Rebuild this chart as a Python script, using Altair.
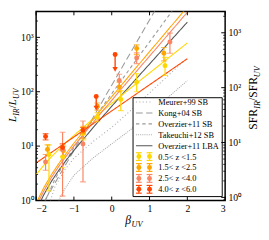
import altair as alt
import pandas as pd

W, H = 195, 195
X_DOM = [-2.0, 3.0]
Y_DOM = [1.0, 3000.0]
Y2_DOM = [0.88, 2450.0]
SERIF = "Liberation Serif"

C1, C2, C3, C4 = "#FFD700", "#FFA500", "#F98563", "#FF4500"

# ---------------- reference relations ----------------
meurer_beta = [-1.62, -1.5, -1.25, -1.0, -0.5, 0.0, 0.5, 1.0, 1.5, 2.0]
meurer_irx = [1.0, 1.8, 3.6, 6.0, 12, 22, 45, 95, 200, 420]
kong_beta = [-1.77, -1.5, -1.0, -0.5, 0.0, 0.5, 1.0, 1.2]
kong_irx = [1.0, 2.1, 8.3, 33, 132, 525, 2090, 3630]
ovzsb_beta = [-1.75, -1.5, -1.0, -0.5, 0.0, 0.5, 1.0, 1.5, 1.7]
ovzsb_irx = [1.0, 2.5, 9.4, 30, 92, 277, 826, 2466, 3819]
take_beta = [-1.40, -1.25, -1.0, -0.5, 0.0, 0.5, 1.0, 1.5, 2.0]
take_irx = [1.0, 1.6, 2.9, 6.0, 11, 20, 40, 80, 160]
lba_beta = [-1.87, -1.8, -1.6, -1.4, -1.2, -1.0, -0.5, 0.0, 0.5, 1.0, 1.5, 2.0]
lba_irx = [1.0, 1.26, 2.22, 3.59, 5.55, 8.33, 21.6, 54, 133, 323, 784, 1904]

# ---------------- fits per redshift bin ----------------
fit1_beta = [-2.0, -1.8, -1.6, -1.4, -1.2, -1.0, -0.5, 0.0, 0.5, 1.0, 1.5, 2.0]
fit1_irx = [3.0, 4.4, 6.3, 8.7, 11.8, 15.7, 31.4, 61, 117, 221, 418, 790]
fit2_beta = [-1.96, -1.9, -1.8, -1.6, -1.4, -1.2, -1.0, -0.5, 0.0, 0.5, 1.0, 1.5, 2.0]
fit2_irx = [1.0, 1.23, 1.70, 2.95, 4.77, 7.41, 11.3, 30.8, 80.8, 211, 545, 1406, 3620]
fit3_beta = [-1.92, -1.9, -1.8, -1.6, -1.4, -1.2, -1.0, -0.5, 0.0, 0.5, 1.0, 1.5, 2.0]
fit3_irx = [1.0, 1.07, 1.48, 2.60, 4.23, 6.59, 10.0, 26.9, 69.5, 178.5, 451, 1144, 2897]
fit4_beta = [-2.0, -1.0, 0.0, 1.0, 2.0]
fit4_irx = [4.9, 14.7, 44.4, 134, 405]

# ---------------- measurements ----------------
bins = ["0.5< z <1.5", "1.5< z <2.5", "2.5< z <4.0", "4.0< z <6.0"]
bin_colors = [C1, C2, C3, C4]

b1_beta = [-1.66, -1.30, -0.75, -0.38, 0.24, 0.66, 1.41]
b1_irx = [7.0, 6.3, 17, 34, 72, 150, 300]
b1_lo = [1.5, 4.0, 13, 28, 45, 100, 200]
b1_hi = [10.5, 8.5, 22, 41, 105, 215, 430]

b2_beta = [-1.70, -1.28, -0.75, -0.38, 0.20, 0.66, 1.38]
b2_irx = [8.7, 8.2, 18, 54, 122, 625, 510]
b2_lo = [7.0, 6.5, 14, 46, 100, 480, 370]
b2_hi = [10.5, 10, 23, 62, 150, 730, 650]

b3_beta = [-1.75, -1.30, -0.76, 0.20, 0.66, 1.54]
b3_irx = [5.1, 8.7, 10.9, 161, 416, 822]
b3_lo = [3.6, 1.2, 2.2, 125, 330, 510]
b3_hi = [7.0, 18, 29, 210, 520, 1200]

b4_beta = [-1.75, -1.30, -0.76]
b4_irx = [15, 9.4, 19.5]
b4_lo = [13, 8.2, 17]
b4_hi = [17, 11, 22]

# upper limits (4.0<z<6.0)
lim_beta = [-0.41, 0.09]
lim_irx = [81.5, 484]
lim_end = [50, 258]

# axes ticks
x_ticks = [-2, -1, 0, 1, 2, 3]
y_major = [1, 10, 100, 1000]
y_minor = [m * d for d in (1, 10, 100, 1000) for m in range(2, 10) if m * d <= 3000]
y2_minor = [0.9] + [m * d for d in (1, 10, 100, 1000) for m in range(2, 10) if m * d <= 2450]

# ---------------- build tables ----------------
curve_names = ["Meurer+99 SB", "Kong+04 SB", "Overzier+11 SB", "Takeuchi+12 SB",
               "Overzier+11 LBA", "f1", "f2", "f3", "f4"]
curve_colors = ["#a8a8a8", "#9a9a9a", "#9a9a9a", "#a8a8a8", "#555555", C1, C2, C3, C4]
curve_dash = [[1, 2.5], [7, 3.5], [3.5, 3], [1, 1.2], [1, 0], [1, 0], [1, 0], [1, 0], [1, 0]]
curve_data = [(meurer_beta, meurer_irx), (kong_beta, kong_irx), (ovzsb_beta, ovzsb_irx),
              (take_beta, take_irx), (lba_beta, lba_irx), (fit1_beta, fit1_irx),
              (fit2_beta, fit2_irx), (fit3_beta, fit3_irx), (fit4_beta, fit4_irx)]
rows = []
for name, (bs, vs) in zip(curve_names, curve_data):
    for i, (b, v) in enumerate(zip(bs, vs)):
        rows.append({"curve": name, "beta": b, "irx": v, "i": i})
curves_df = pd.DataFrame(rows)

prow = []
for bname, bb, vv, lo, hi in zip(bins, [b1_beta, b2_beta, b3_beta, b4_beta],
                                 [b1_irx, b2_irx, b3_irx, b4_irx],
                                 [b1_lo, b2_lo, b3_lo, b4_lo],
                                 [b1_hi, b2_hi, b3_hi, b4_hi]):
    for b, v, l, h in zip(bb, vv, lo, hi):
        prow.append({"curve": bname, "beta": b, "irx": v, "lo": l, "hi": h})
pts_df = pd.DataFrame(prow)
lim_df = pd.DataFrame({"beta": lim_beta, "irx": lim_irx, "end": lim_end})

xs = alt.Scale(domain=X_DOM, nice=False, zero=False)
ys = alt.Scale(type="log", domain=Y_DOM, nice=False)
ys2 = alt.Scale(type="log", domain=Y2_DOM, nice=False)

x_axis = alt.Axis(values=x_ticks, ticks=False, domain=False, grid=False, title=None,
                  labelFont=SERIF, labelFontSize=10, labelColor="black", labelPadding=3,
                  labelExpr="datum.value < 0 ? '\u2212' + (-datum.value) : '' + datum.value")
sup = ("datum.value >= 1000 ? '10\u00b3' : datum.value >= 100 ? '10\u00b2' : "
       "datum.value >= 10 ? '10\u00b9' : '10\u2070'")
y_axis = alt.Axis(values=y_major, ticks=False, domain=False, grid=False, title=None,
                  labelFont=SERIF, labelFontSize=10, labelColor="black", labelPadding=3,
                  labelExpr=sup)
y2_axis = alt.Axis(values=y_major, ticks=False, domain=False, grid=False, title=None,
                   orient="right", labelFont=SERIF, labelFontSize=10, labelColor="black",
                   labelPadding=3, labelExpr=sup)

X = alt.X("beta:Q", scale=xs, axis=x_axis)
Y = alt.Y("irx:Q", scale=ys, axis=y_axis)
all_names = curve_names + bins
all_colors = curve_colors + bin_colors
cscale = alt.Scale(domain=all_names, range=all_colors)
dscale = alt.Scale(domain=curve_names, range=curve_dash)
COL = alt.Color("curve:N", scale=cscale, legend=None)

lines = alt.Chart(curves_df).mark_line(clip=True, strokeWidth=1.1).encode(
    x=X, y=Y, color=COL,
    strokeDash=alt.StrokeDash("curve:N", scale=dscale, legend=None),
    order="i:Q",
)

err = alt.Chart(pts_df).mark_rule(clip=True, strokeWidth=1.2).encode(
    x=X, y=alt.Y("lo:Q", scale=ys, axis=y_axis), y2="hi:Q", color=COL)
cap_lo = alt.Chart(pts_df).mark_tick(orient="horizontal", size=6, thickness=1.2, clip=True).encode(
    x=X, y=alt.Y("lo:Q", scale=ys, axis=y_axis), color=COL)
cap_hi = alt.Chart(pts_df).mark_tick(orient="horizontal", size=6, thickness=1.2, clip=True).encode(
    x=X, y=alt.Y("hi:Q", scale=ys, axis=y_axis), color=COL)
dots = alt.Chart(pts_df).mark_circle(size=26, opacity=1).encode(x=X, y=Y, color=COL)

lim_rule = alt.Chart(lim_df).mark_rule(strokeWidth=1.4, color=C4).encode(
    x=X, y=Y, y2="end:Q")
lim_head = alt.Chart(lim_df).mark_point(shape="triangle-down", filled=True, size=30,
                                        opacity=1, color=C4).encode(
    x=X, y=alt.Y("end:Q", scale=ys, axis=y_axis))
lim_dot = alt.Chart(lim_df).mark_circle(size=26, opacity=1, color=C4).encode(x=X, y=Y)

# inner ticks
xt_df = pd.DataFrame({"beta": x_ticks})
xt_bot = alt.Chart(xt_df).mark_rule(color="black", strokeWidth=1).encode(
    x=X, y=alt.value(H), y2=alt.value(H - 4))
xt_top = alt.Chart(xt_df).mark_rule(color="black", strokeWidth=1).encode(
    x=X, y=alt.value(0), y2=alt.value(4))
ymaj_df = pd.DataFrame({"irx": y_major})
ymin_df = pd.DataFrame({"irx": y_minor})
yt_maj = alt.Chart(ymaj_df).mark_rule(color="black", strokeWidth=1).encode(
    y=Y, x=alt.value(0), x2=alt.value(4))
yt_min = alt.Chart(ymin_df).mark_rule(color="black", strokeWidth=0.8).encode(
    y=Y, x=alt.value(0), x2=alt.value(2))

# legend (custom, matplotlib-like box)
leg = []
leg.append(alt.Chart(pd.DataFrame({"a": [0]})).mark_rect(
    fill="white", stroke="black", strokeWidth=1).encode(
    x=alt.value(100), x2=alt.value(192), y=alt.value(89), y2=alt.value(191)))
row_y = [93.5, 104.75, 116, 127.25, 138.5, 149.75, 161, 172.25, 183.5]
for k in range(5):
    leg.append(alt.Chart(pd.DataFrame({"a": [0]})).mark_rule(
        color=curve_colors[k], strokeDash=curve_dash[k], strokeWidth=1.1).encode(
        x=alt.value(103), x2=alt.value(120), y=alt.value(row_y[k])))
for k in range(4):
    yy = row_y[5 + k]
    for xx in (106, 117):
        leg.append(alt.Chart(pd.DataFrame({"a": [0]})).mark_rule(
            color=bin_colors[k], strokeWidth=1.2).encode(
            x=alt.value(xx), y=alt.value(yy - 4), y2=alt.value(yy + 4)))
        for cy in (yy - 4, yy + 4):
            leg.append(alt.Chart(pd.DataFrame({"a": [0]})).mark_rule(
                color=bin_colors[k], strokeWidth=1.2).encode(
                x=alt.value(xx - 3), x2=alt.value(xx + 3), y=alt.value(cy)))
        leg.append(alt.Chart(pd.DataFrame({"a": [0]})).mark_circle(
            color=bin_colors[k], size=26, opacity=1).encode(
            x=alt.value(xx), y=alt.value(yy)))
leg_labels = curve_names[:5] + bins
for k, t in enumerate(leg_labels):
    leg.append(alt.Chart(pd.DataFrame({"t": [t]})).mark_text(
        font=SERIF, fontSize=8.6, align="left", baseline="middle", color="black").encode(
        x=alt.value(126), y=alt.value(row_y[k]), text="t:N"))


def rot_title(pieces, x0, y0):
    """pieces: (text, size, italic, sub, advance) drawn bottom-to-top starting at y0."""
    out = []
    y = y0
    for text, size, ital, sub, wid in pieces:
        out.append(alt.Chart(pd.DataFrame({"t": [text]})).mark_text(
            font=SERIF, fontSize=size, fontStyle="italic" if ital else "normal",
            angle=270, align="left", baseline="alphabetic", color="black").encode(
            x=alt.value(x0 + (2.5 if sub else 0)), y=alt.value(y), text="t:N"))
        y -= wid
    return out


ytitle = rot_title([("L", 11, True, False, 6.4), ("IR", 8, True, True, 7.6),
                    ("/", 11, False, False, 3.3), ("L", 11, True, False, 6.4),
                    ("UV", 8, True, True, 10)], -20.5, 114)
y2title = rot_title([("SFR", 12, False, False, 21.5), ("IR", 8.5, True, True, 8.2),
                     ("/SFR", 12, False, False, 24.5), ("UV", 8.5, True, True, 11)], 228, 122)
xtitle = [
    alt.Chart(pd.DataFrame({"t": ["\u03b2"]})).mark_text(
        font=SERIF, fontSize=12, fontStyle="italic", align="left", baseline="alphabetic",
        color="black").encode(x=alt.value(92), y=alt.value(219), text="t:N"),
    alt.Chart(pd.DataFrame({"t": ["UV"]})).mark_text(
        font=SERIF, fontSize=8.5, fontStyle="italic", align="left", baseline="alphabetic",
        color="black").encode(x=alt.value(98.5), y=alt.value(222), text="t:N"),
]

left = alt.layer(lines, err, cap_lo, cap_hi, dots, lim_rule, lim_head, lim_dot,
                 xt_bot, xt_top, yt_maj, yt_min, *leg, *ytitle, *y2title, *xtitle)

Y2 = alt.Y("v:Q", scale=ys2, axis=y2_axis)
r_maj = alt.Chart(pd.DataFrame({"v": y_major})).mark_rule(color="black", strokeWidth=1).encode(
    y=Y2, x=alt.value(W - 4), x2=alt.value(W))
r_min = alt.Chart(pd.DataFrame({"v": y2_minor})).mark_rule(color="black", strokeWidth=0.8).encode(
    y=Y2, x=alt.value(W - 2), x2=alt.value(W))
right = alt.layer(r_maj, r_min)

chart = alt.layer(left, right).resolve_scale(y="independent").resolve_axis(
    y="independent").properties(
    width=W, height=H, padding={"left": 29, "top": 0, "right": 37, "bottom": 29},
    autosize=alt.AutoSizeParams(type="none"),
).configure_view(stroke="black", strokeWidth=1.5)

chart.save("out.html", embed_options={"renderer": "svg", "actions": False})
